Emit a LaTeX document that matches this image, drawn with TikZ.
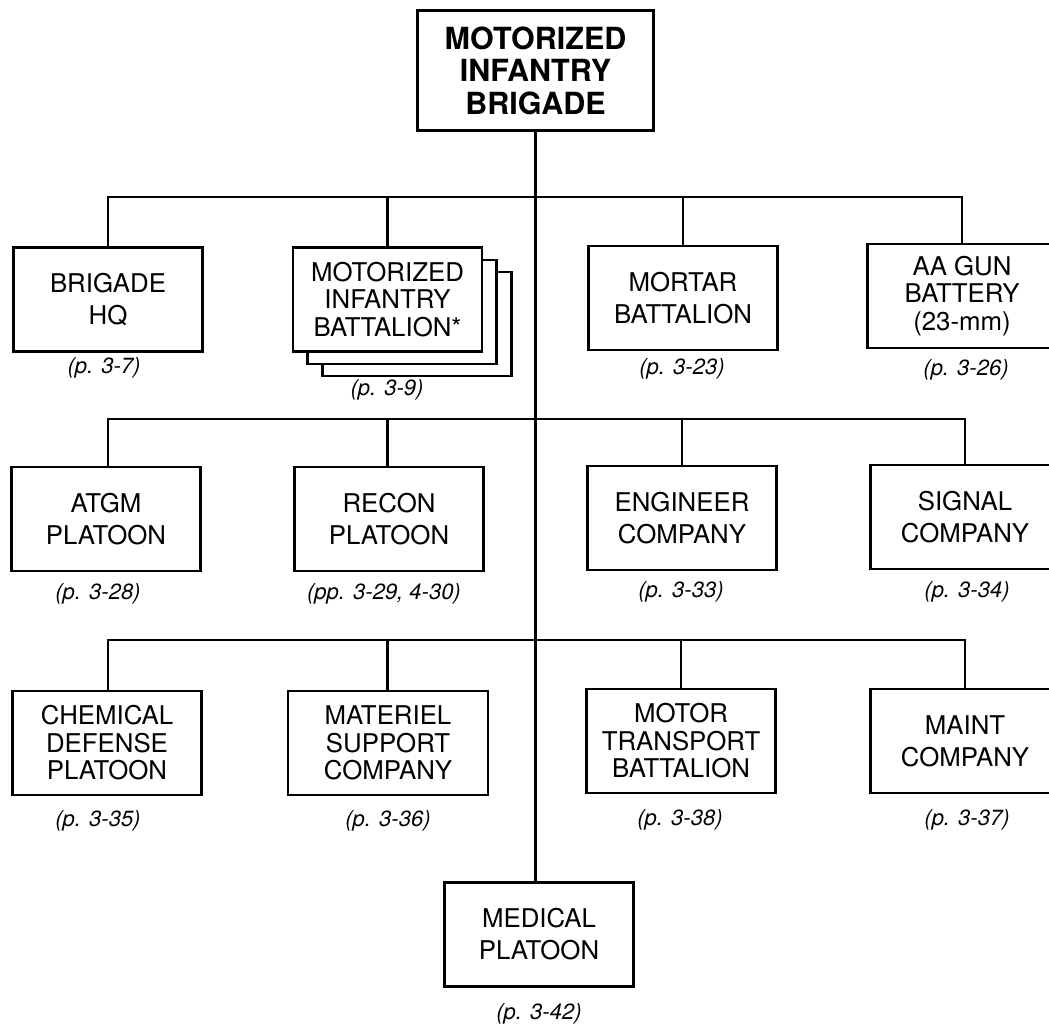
\documentclass[tikz,border=0pt]{standalone}
\usepackage{fontspec}
\setmainfont{TeX Gyre Heros}
\begin{document}
\begin{tikzpicture}[x=1pt,y=-1pt,
  box/.style={draw, line width=2.6pt, fill=white, minimum width=189pt, minimum height=104pt,
    align=center, inner sep=0pt, font=\fontsize{25.8}{32}\selectfont},
  box3/.style={box, font=\fontsize{25.8}{27.5}\selectfont},
  topbox/.style={draw, line width=2.6pt, fill=white, minimum width=236pt, minimum height=120pt,
    align=center, inner sep=0pt, font=\fontsize{30.5}{32.5}\selectfont\bfseries},
  pg/.style={font=\fontsize{22}{24}\selectfont\itshape, inner sep=0pt},
  conn/.style={line width=2.2pt}]
\useasboundingbox (0,0) rectangle (1049,1025);

% top
\node[topbox] (brig) at (535.5,70.5) {MOTORIZED\\INFANTRY\\BRIGADE};

% row 1
\node[box] (bhq) at (108,299.5) {BRIGADE\\HQ};
\node[box] (mib3) at (417,324) {};
\node[box] (mib2) at (402,312) {};
\node[box3] (mib) at (387.5,299.5) {MOTORIZED\\INFANTRY\\BATTALION*};
\node[box] (mort) at (683,298) {MORTAR\\BATTALION};
\node[box3] (aa) at (962,296) {AA GUN\\BATTERY\\(23-mm)};

\node[pg] (pbhq) at (104,368) {(p. 3-7)};
\node[pg] (pmib) at (387,390) {(p. 3-9)};
\node[pg] (pmort) at (682,369) {(p. 3-23)};
\node[pg] (paa) at (966,370) {(p. 3-26)};

% row 2
\node[box] (atgm) at (106,519) {ATGM\\PLATOON};
\node[box] (recon) at (389,519) {RECON\\PLATOON};
\node[box] (eng) at (682,518) {ENGINEER\\COMPANY};
\node[box] (sig) at (965,517) {SIGNAL\\COMPANY};

\node[pg] (patgm) at (98,594) {(p. 3-28)};
\node[pg] (precon) at (384,594) {(pp. 3-29, 4-30)};
\node[pg] (peng) at (681,592) {(p. 3-33)};
\node[pg] (psig) at (967,592) {(p. 3-34)};

% row 3
\node[box3] (chem) at (107,743) {CHEMICAL\\DEFENSE\\PLATOON};
\node[box3, minimum width=200pt] (mat) at (388,743) {MATERIEL\\SUPPORT\\COMPANY};
\node[box3] (mtb) at (681,741) {MOTOR\\TRANSPORT\\BATTALION};
\node[box] (maint) at (965,741) {MAINT\\COMPANY};

\node[pg] (pchem) at (98,821) {(p. 3-35)};
\node[pg] (pmat) at (388,821) {(p. 3-36)};
\node[pg] (pmtb) at (680,820) {(p. 3-38)};
\node[pg] (pmaint) at (967,820) {(p. 3-37)};

% medical
\node[box] (med) at (539,934.5) {MEDICAL\\PLATOON};
\node[pg] (pmed) at (539,1014) {(p. 3-42)};

% buses
\coordinate (b1) at (536,197);
\coordinate (b2) at (536,419);
\coordinate (b3) at (536,640);

\draw[conn] (brig.south) -- (brig.south |- med.north);
\draw[conn] (bhq.north) |- (b1) -| (aa.north);
\draw[conn] (mib.north) -- (mib.north |- b1);
\draw[conn] (mort.north) -- (mort.north |- b1);
\draw[conn] (atgm.north -| bhq.north) |- (b2) -| (sig.north);
\draw[conn] (recon.north -| mib.north) -- (mib.north |- b2);
\draw[conn] (eng.north) -- (eng.north |- b2);
\draw[conn] (chem.north -| bhq.north) |- (b3) -| (maint.north);
\draw[conn] (mat.north -| mib.north) -- (mib.north |- b3);
\draw[conn] (mtb.north) -- (mtb.north |- b3);
\end{tikzpicture}
\end{document}
